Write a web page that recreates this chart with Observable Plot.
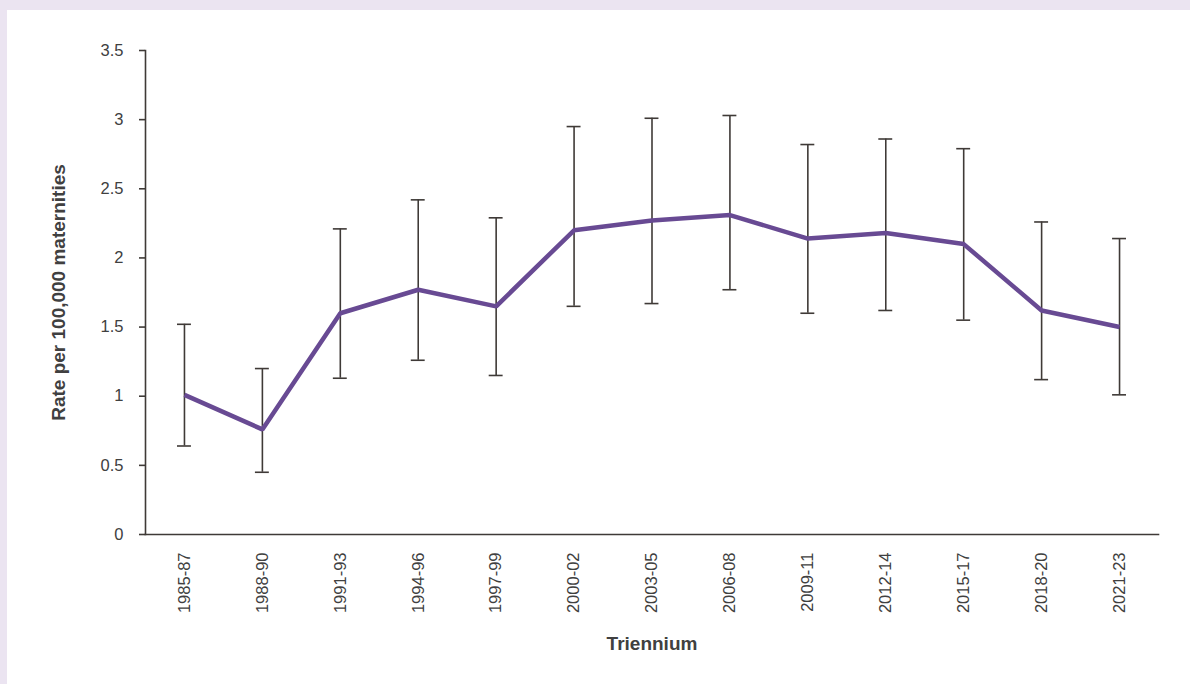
<!DOCTYPE html>
<html>
<head>
<meta charset="utf-8">
<script src="https://cdn.jsdelivr.net/npm/d3@7"></script>
<script src="https://cdn.jsdelivr.net/npm/@observablehq/plot@0.6"></script>
<style>
  html, body { margin: 0; padding: 0; }
  body { width: 1190px; height: 684px; background: #ebe4f1; overflow: hidden; position: relative; }
  #panel { position: absolute; left: 7px; top: 10px; width: 1183px; height: 674px; background: #ffffff; }
  #panel svg { display: block; }
</style>
</head>
<body>
<div id="panel"></div>
<script>
const triennia = ["1985-87","1988-90","1991-93","1994-96","1997-99","2000-02","2003-05","2006-08","2009-11","2012-14","2015-17","2018-20","2021-23"];
const rates    = [1.01, 0.76, 1.60, 1.77, 1.65, 2.20, 2.27, 2.31, 2.14, 2.18, 2.10, 1.62, 1.50];
const lower    = [0.64, 0.45, 1.13, 1.26, 1.15, 1.65, 1.67, 1.77, 1.60, 1.62, 1.55, 1.12, 1.01];
const upper    = [1.52, 1.20, 2.21, 2.42, 2.29, 2.95, 3.01, 3.03, 2.82, 2.86, 2.79, 2.26, 2.14];
const yTicks   = [0, 0.5, 1, 1.5, 2, 2.5, 3, 3.5];

const data = triennia.map((t, i) => ({t, rate: rates[i], lo: lower[i], hi: upper[i]}));

const axisColor = "#3f3a37";
const textColor = "#404040";

const chart = Plot.plot({
  width: 1183,
  height: 674,
  marginLeft: 138,
  marginRight: 32,
  marginTop: 40,
  marginBottom: 150,
  style: {fontFamily: "'Liberation Sans', Arial, sans-serif", fontSize: "16.5px", color: textColor, background: "transparent"},
  x: {type: "band", domain: triennia, padding: 0, align: 0.5, round: false},
  y: {domain: [0, 3.5]},
  marks: [
    Plot.ruleX(data, {x: "t", y1: "lo", y2: "hi", stroke: axisColor, strokeWidth: 1.6}),
    Plot.tickY(data, {x: "t", y: "lo", stroke: axisColor, strokeWidth: 1.6, insetLeft: 32, insetRight: 32}),
    Plot.tickY(data, {x: "t", y: "hi", stroke: axisColor, strokeWidth: 1.6, insetLeft: 32, insetRight: 32}),
    Plot.line(data, {x: "t", y: "rate", stroke: "#684a93", strokeWidth: 4.5, strokeLinejoin: "miter", strokeLinecap: "butt"}),
    Plot.axisY({ticks: yTicks, tickFormat: d => String(d), tickSize: 6, tickPadding: 16, stroke: axisColor, strokeWidth: 1.6,
      label: "Rate per 100,000 maternities", labelAnchor: "center", labelArrow: "none", labelOffset: 94, fontSize: 16.5}),
    Plot.axisX({tickSize: 0, tickPadding: 18, tickRotate: -90, fontSize: 16.5,
      label: "Triennium", labelAnchor: "center", labelArrow: "none", labelOffset: 115}),
    Plot.frame({anchor: "left", stroke: axisColor, strokeWidth: 1.6}),
    Plot.frame({anchor: "bottom", stroke: axisColor, strokeWidth: 1.6})
  ]
});

d3.select(chart).selectAll("g[aria-label='y-axis label'] text, g[aria-label='x-axis label'] text")
  .style("font-weight", "bold").style("font-size", "19px");
document.getElementById("panel").appendChild(chart);
</script>
</body>
</html>
